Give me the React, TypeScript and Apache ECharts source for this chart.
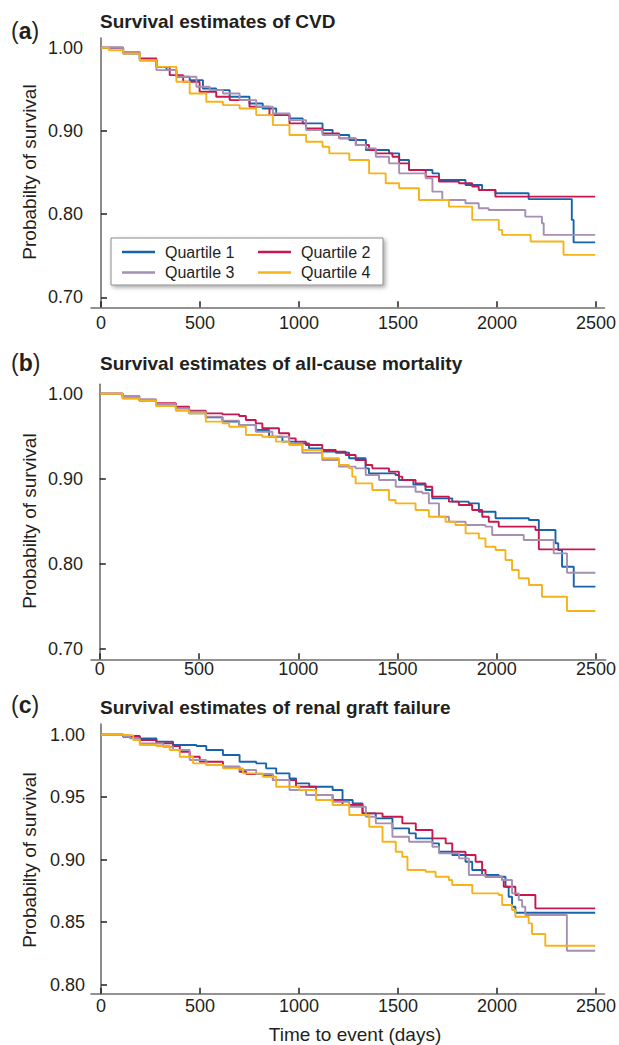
import React, { useEffect, useRef } from 'react';
import * as echarts from 'echarts';

// ---------- DATA ----------
const xTicks = [0, 500, 1000, 1500, 2000, 2500];
const yTicksAB = [0.7, 0.8, 0.9, 1.0];
const yTicksC = [0.8, 0.85, 0.9, 0.95, 1.0];
const quartileNames = ['Quartile 1', 'Quartile 2', 'Quartile 3', 'Quartile 4'];
const panelTitles = [
  'Survival estimates of CVD',
  'Survival estimates of all-cause mortality',
  'Survival estimates of renal graft failure',
];
const panelLetters = ['a', 'b', 'c'];
const yTitle = 'Probabilty of survival';
const xTitle = 'Time to event (days)';

// (a) CVD  [days, survival]
const cvdQ1 = [[0, 1], [112, 0.993], [196, 0.985], [280, 0.977], [331, 0.973], [381, 0.965], [448, 0.961], [515, 0.951], [582, 0.949], [650, 0.941], [750, 0.933], [817, 0.927], [885, 0.919], [952, 0.915], [1019, 0.909], [1119, 0.901], [1170, 0.895], [1254, 0.889], [1338, 0.877], [1455, 0.873], [1506, 0.865], [1556, 0.853], [1674, 0.849], [1707, 0.841], [1841, 0.835], [1925, 0.829], [1992, 0.825], [2160, 0.818], [2378, 0.793], [2387, 0.766], [2496, 0.766]];
const cvdQ2 = [[0, 1], [112, 0.994], [196, 0.987], [280, 0.977], [347, 0.967], [415, 0.959], [498, 0.947], [582, 0.941], [650, 0.937], [750, 0.929], [851, 0.919], [952, 0.909], [1036, 0.903], [1119, 0.897], [1203, 0.891], [1287, 0.883], [1354, 0.877], [1388, 0.873], [1472, 0.869], [1506, 0.861], [1556, 0.853], [1640, 0.845], [1707, 0.839], [1808, 0.837], [1875, 0.833], [1908, 0.829], [1992, 0.821], [2496, 0.821]];
const cvdQ3 = [[0, 1], [112, 0.995], [196, 0.985], [280, 0.973], [381, 0.965], [482, 0.953], [549, 0.949], [616, 0.945], [700, 0.937], [784, 0.929], [868, 0.921], [952, 0.913], [1036, 0.901], [1119, 0.895], [1203, 0.891], [1287, 0.883], [1338, 0.879], [1388, 0.869], [1455, 0.861], [1506, 0.849], [1640, 0.843], [1674, 0.827], [1724, 0.817], [1841, 0.813], [1908, 0.807], [1958, 0.805], [2143, 0.797], [2227, 0.789], [2236, 0.775], [2496, 0.775]];
const cvdQ4 = [[0, 1], [40, 0.997], [112, 0.993], [196, 0.985], [280, 0.977], [381, 0.959], [448, 0.945], [532, 0.935], [616, 0.931], [700, 0.927], [784, 0.919], [868, 0.907], [952, 0.895], [1036, 0.887], [1119, 0.881], [1153, 0.873], [1254, 0.865], [1354, 0.849], [1438, 0.837], [1506, 0.831], [1606, 0.817], [1757, 0.809], [1875, 0.793], [2009, 0.781], [2026, 0.775], [2170, 0.767], [2336, 0.751], [2496, 0.751]];

// (b) all-cause mortality
const acmQ1 = [[0, 1], [115, 0.9946], [199, 0.9918], [283, 0.9879], [383, 0.9828], [450, 0.9769], [534, 0.9722], [618, 0.9671], [702, 0.9632], [786, 0.9573], [853, 0.9494], [920, 0.9436], [987, 0.9416], [1054, 0.9357], [1121, 0.9318], [1189, 0.9306], [1256, 0.924], [1339, 0.9122], [1356, 0.9063], [1490, 0.9044], [1507, 0.8985], [1580, 0.893], [1641, 0.8867], [1675, 0.8769], [1776, 0.873], [1859, 0.871], [1910, 0.8612], [1994, 0.8534], [2162, 0.8514], [2212, 0.8396], [2296, 0.824], [2310, 0.8161], [2329, 0.7965], [2388, 0.773], [2497, 0.773]];
const acmQ2 = [[0, 1], [115, 0.9973], [199, 0.9926], [283, 0.9887], [383, 0.9847], [450, 0.98], [534, 0.9769], [618, 0.9757], [702, 0.9738], [736, 0.9691], [786, 0.9651], [819, 0.9593], [903, 0.9534], [954, 0.9475], [987, 0.9436], [1038, 0.9396], [1121, 0.9338], [1189, 0.9318], [1239, 0.9279], [1289, 0.922], [1340, 0.9161], [1373, 0.9122], [1457, 0.9083], [1507, 0.9024], [1524, 0.8985], [1591, 0.8945], [1641, 0.8906], [1675, 0.8789], [1759, 0.873], [1809, 0.8691], [1876, 0.8632], [1927, 0.8553], [1960, 0.8494], [2010, 0.8436], [2195, 0.8396], [2212, 0.8169], [2497, 0.8169]];
const acmQ3 = [[0, 1], [115, 0.9973], [199, 0.9934], [283, 0.9879], [383, 0.9828], [450, 0.9789], [534, 0.973], [618, 0.9683], [702, 0.9632], [786, 0.9553], [870, 0.9494], [954, 0.9416], [1021, 0.9306], [1121, 0.922], [1205, 0.9142], [1289, 0.9122], [1340, 0.9044], [1407, 0.8985], [1491, 0.8906], [1591, 0.8847], [1625, 0.8828], [1658, 0.871], [1709, 0.8553], [1759, 0.8494], [1843, 0.8455], [1943, 0.8436], [1977, 0.8338], [2136, 0.8279], [2287, 0.8122], [2354, 0.7894], [2497, 0.7894]];
const acmQ4 = [[0, 1], [115, 0.9946], [199, 0.9918], [283, 0.9855], [383, 0.98], [450, 0.9769], [534, 0.9671], [618, 0.9651], [652, 0.9612], [736, 0.9514], [819, 0.9494], [887, 0.9436], [954, 0.9396], [1021, 0.9338], [1121, 0.924], [1205, 0.9161], [1256, 0.9122], [1272, 0.9024], [1289, 0.8945], [1373, 0.8867], [1457, 0.8749], [1490, 0.871], [1591, 0.8632], [1658, 0.8553], [1742, 0.8494], [1792, 0.8455], [1843, 0.8357], [1910, 0.8298], [1943, 0.82], [1994, 0.8161], [2044, 0.8043], [2077, 0.7926], [2111, 0.7828], [2162, 0.7749], [2228, 0.7612], [2354, 0.7443], [2497, 0.7443]];

// (c) renal graft failure
const rgfQ1 = [[0, 1], [112, 0.9984], [196, 0.9971], [280, 0.9944], [364, 0.9918], [482, 0.991], [532, 0.9878], [616, 0.9838], [700, 0.9784], [784, 0.9771], [834, 0.9731], [885, 0.9691], [952, 0.9651], [985, 0.9611], [1052, 0.9584], [1170, 0.9558], [1220, 0.9478], [1271, 0.9451], [1321, 0.9371], [1388, 0.9331], [1472, 0.9251], [1556, 0.9211], [1590, 0.9171], [1674, 0.9131], [1707, 0.9064], [1774, 0.9038], [1841, 0.8984], [1875, 0.8918], [1925, 0.8878], [2009, 0.8864], [2043, 0.8784], [2059, 0.8704], [2076, 0.8624], [2093, 0.8576], [2496, 0.8576]];
const rgfQ2 = [[0, 1], [112, 0.999], [196, 0.9958], [280, 0.9931], [364, 0.991], [398, 0.9864], [448, 0.9824], [499, 0.9784], [616, 0.9744], [700, 0.9704], [734, 0.9686], [817, 0.9678], [868, 0.9638], [985, 0.9584], [1086, 0.9518], [1170, 0.9478], [1220, 0.9438], [1321, 0.9371], [1422, 0.9344], [1522, 0.9291], [1590, 0.9238], [1674, 0.9171], [1741, 0.9131], [1774, 0.9064], [1841, 0.9038], [1892, 0.8984], [1925, 0.8918], [1942, 0.8864], [2026, 0.8838], [2034, 0.8784], [2093, 0.8718], [2194, 0.8611], [2496, 0.8611]];
const rgfQ3 = [[0, 1], [112, 0.999], [146, 0.9971], [196, 0.9931], [314, 0.9904], [364, 0.9878], [448, 0.9798], [532, 0.9758], [616, 0.9744], [700, 0.9718], [784, 0.9686], [868, 0.9638], [952, 0.9558], [1036, 0.9518], [1170, 0.9464], [1254, 0.9424], [1338, 0.9344], [1388, 0.9291], [1472, 0.9184], [1556, 0.9144], [1674, 0.9104], [1707, 0.9051], [1808, 0.9011], [1858, 0.8878], [1942, 0.8864], [2026, 0.8838], [2076, 0.8731], [2110, 0.8678], [2127, 0.8624], [2143, 0.8558], [2353, 0.8272], [2496, 0.8272]];
const rgfQ4 = [[0, 1], [112, 0.9995], [163, 0.9958], [196, 0.9918], [280, 0.991], [347, 0.9878], [398, 0.9824], [465, 0.9771], [532, 0.9758], [616, 0.9731], [717, 0.9691], [817, 0.9664], [885, 0.9584], [1002, 0.9558], [1086, 0.9478], [1170, 0.9438], [1254, 0.9358], [1355, 0.9264], [1422, 0.9144], [1489, 0.9064], [1522, 0.9024], [1548, 0.8918], [1640, 0.8904], [1690, 0.8864], [1757, 0.8838], [1774, 0.8798], [1875, 0.8731], [2009, 0.8718], [2026, 0.8638], [2076, 0.8598], [2093, 0.8544], [2160, 0.8491], [2177, 0.8406], [2244, 0.8312], [2496, 0.8312]];

const panelSeries = [
  [cvdQ1, cvdQ2, cvdQ3, cvdQ4],
  [acmQ1, acmQ2, acmQ3, acmQ4],
  [rgfQ1, rgfQ2, rgfQ3, rgfQ4],
];

// ---------- STYLE / LAYOUT ----------
const quartileColors = ['#1764ab', '#c8174e', '#a58fb2', '#f6b319'];
const FONT = '"Liberation Sans", Arial, Helvetica, sans-serif';
const INK = '#231f20';

const panels = [
  { grid: { left: 91, top: 38, width: 515, height: 269.3 }, xMin: -50.4, xMax: 2543, yMin: 0.68798, yMax: 1.01166, yTicks: yTicksAB, xMargin: 7, yMargin: 8, titleY: 21, letterY: 31, yTitleY: 172 },
  { grid: { left: 91, top: 384.3, width: 515, height: 275 }, xMin: -44.3, xMax: 2549, yMin: 0.68753, yMax: 1.01106, yTicks: yTicksAB, xMargin: 1, yMargin: 8, titleY: 363.5, letterY: 363, yTitleY: 521 },
  { grid: { left: 91, top: 724, width: 515, height: 269.7 }, xMin: -50.4, xMax: 2543, yMin: 0.7928, yMax: 1.00856, yTicks: yTicksC, xMargin: 3, yMargin: 6, titleY: 707.5, letterY: 705, yTitleY: 860 },
];

export default function App() {
  const ref = useRef<HTMLDivElement>(null);

  useEffect(() => {
    if (!ref.current) return;
    const chart = echarts.init(ref.current, undefined, { renderer: 'svg' });

    const axisLineStyle = { color: '#6f6f6f', width: 1.6 };
    const tickStyle = { color: INK, width: 1.5 };

    const grids = panels.map((p) => ({ ...p.grid, containLabel: false }));
    const xAxes = panels.map((p, i) => ({
      type: 'value',
      gridIndex: i,
      min: p.xMin,
      max: p.xMax,
      splitLine: { show: false },
      axisLine: { show: true, lineStyle: axisLineStyle },
      axisTick: { show: true, inside: true, length: 6, lineStyle: tickStyle, customValues: xTicks },
      axisLabel: {
        customValues: xTicks,
        margin: p.xMargin,
        fontSize: 18,
        fontFamily: FONT,
        color: INK,
        formatter: (v: number) => String(Math.round(v)),
      },
    }));
    const yAxes = panels.map((p, i) => ({
      type: 'value',
      gridIndex: i,
      min: p.yMin,
      max: p.yMax,
      splitLine: { show: false },
      axisLine: { show: true, lineStyle: axisLineStyle },
      axisTick: { show: true, inside: true, length: 6, lineStyle: tickStyle, customValues: p.yTicks },
      axisLabel: {
        customValues: p.yTicks,
        margin: p.yMargin,
        fontSize: 18,
        fontFamily: FONT,
        color: INK,
        formatter: (v: number) => v.toFixed(2),
      },
    }));

    const series: any[] = [];
    panelSeries.forEach((group, pi) => {
      group.forEach((data, qi) => {
        series.push({
          type: 'line',
          name: quartileNames[qi],
          xAxisIndex: pi,
          yAxisIndex: pi,
          data,
          step: 'end',
          symbol: 'none',
          showSymbol: false,
          silent: true,
          color: quartileColors[qi],
          itemStyle: { color: quartileColors[qi] },
          lineStyle: { width: 1.9, color: quartileColors[qi] },
          z: 2 + qi,
        });
      });
    });

    const legendCommon = {
      orient: 'vertical',
      top: 243,
      padding: 0,
      itemWidth: 33,
      itemHeight: 2.5,
      itemGap: 2.6,
      icon: 'rect',
      selectedMode: false,
      textStyle: { fontSize: 16, lineHeight: 18, fontFamily: FONT, color: INK, padding: [0, 0, 0, 5] },
    };

    const graphics: any[] = [
      {
        type: 'rect',
        shape: { x: 111, y: 238, width: 272, height: 47 },
        style: { fill: '#ffffff', stroke: '#8c8c8c', lineWidth: 1, shadowBlur: 4, shadowColor: 'rgba(0,0,0,0.35)', shadowOffsetX: 2, shadowOffsetY: 2 },
        z: 3,
        silent: true,
      },
    ];
    panels.forEach((p, i) => {
      graphics.push({
        type: 'text',
        x: 11,
        y: p.letterY,
        style: {
          text: '{n|(}{b|' + panelLetters[i] + '}{n|)}',
          textVerticalAlign: 'middle',
          verticalAlign: 'middle',
          rich: {
            n: { fontSize: 23, fontFamily: FONT, fill: INK, color: INK },
            b: { fontSize: 23, fontFamily: FONT, fontWeight: 'bold', fill: INK, color: INK },
          },
        },
        silent: true,
      });
      graphics.push({
        type: 'text',
        x: 100,
        y: p.titleY,
        style: {
          text: panelTitles[i],
          fontSize: 19,
          fontWeight: 'bold',
          fontFamily: FONT,
          fill: INK,
          textVerticalAlign: 'middle',
          verticalAlign: 'middle',
        },
        silent: true,
      });
      graphics.push({
        type: 'text',
        x: 29,
        y: p.yTitleY,
        rotation: Math.PI / 2,
        style: {
          text: yTitle,
          fontSize: 19,
          fontFamily: FONT,
          fill: INK,
          textAlign: 'center',
          align: 'center',
          textVerticalAlign: 'middle',
          verticalAlign: 'middle',
        },
        silent: true,
      });
    });
    graphics.push({
      type: 'text',
      x: 355,
      y: 1034,
      style: {
        text: xTitle,
        fontSize: 19,
        fontFamily: FONT,
        fill: INK,
        textAlign: 'center',
        align: 'center',
        textVerticalAlign: 'middle',
        verticalAlign: 'middle',
      },
      silent: true,
    });

    chart.setOption({
      animation: false,
      backgroundColor: '#ffffff',
      grid: grids,
      xAxis: xAxes,
      yAxis: yAxes,
      legend: [
        { ...legendCommon, left: 122, data: [quartileNames[0], quartileNames[2]] },
        { ...legendCommon, left: 258, data: [quartileNames[1], quartileNames[3]] },
      ],
      graphic: graphics,
      series,
    });

    return () => chart.dispose();
  }, []);

  return (
    <div
      ref={ref}
      style={{ position: 'fixed', left: 0, top: 0, width: 619, height: 1045, background: '#fff' }}
    />
  );
}
